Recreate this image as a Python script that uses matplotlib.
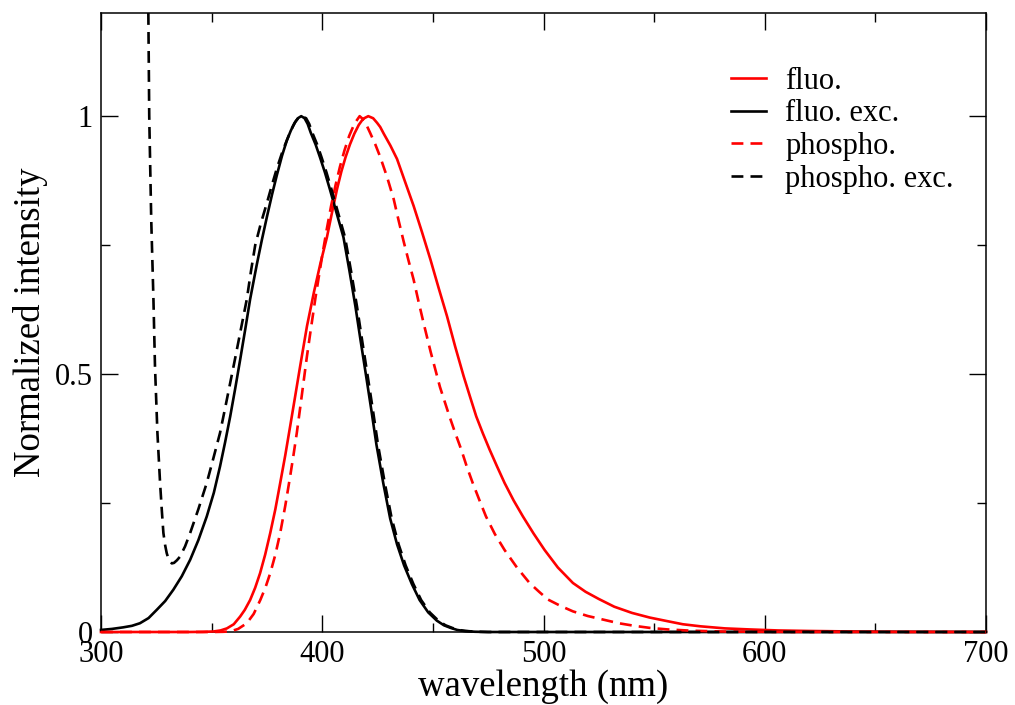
import matplotlib
matplotlib.use("Agg")
import matplotlib.pyplot as plt
from matplotlib.ticker import MultipleLocator, FixedLocator, FixedFormatter

# ---- data ----
fluo_nm = [300, 340, 346, 350.8, 354, 356.9, 360, 362.9, 365, 367.4, 369.7, 371.9, 374.2,
           376.5, 378.8, 381.0, 383.3, 385.5, 387.8, 390.0, 393.1, 396.3, 399.2, 402.1,
           404.4, 406.7, 408.6, 410.5, 412.5, 414.5, 416.5, 418.5, 420.8, 423.0, 424.8,
           426.2, 427.8, 430.8, 433.8, 437.5, 441.3, 445.1, 448.9, 452.6, 456.4, 460.1,
           463.9, 466.8, 469.6, 472.6, 475.6, 479.0, 482.4, 486.5, 490.7, 495.5, 500.5,
           506.5, 513.3, 519, 525, 532, 540, 548, 556, 563, 571, 582, 593, 606, 620, 640,
           660, 700]
fluo_int = [0, 0, 0.0003, 0.001, 0.003, 0.007, 0.015, 0.030, 0.043, 0.062, 0.086, 0.114,
            0.150, 0.192, 0.238, 0.289, 0.343, 0.399, 0.458, 0.515, 0.593, 0.660, 0.715,
            0.765, 0.813, 0.859, 0.892, 0.920, 0.945, 0.966, 0.983, 0.995, 1.0, 0.996,
            0.987, 0.979, 0.966, 0.943, 0.917, 0.872, 0.826, 0.775, 0.722, 0.667, 0.612,
            0.553, 0.496, 0.456, 0.418, 0.385, 0.354, 0.321, 0.289, 0.255, 0.224, 0.191,
            0.159, 0.125, 0.095, 0.078, 0.064, 0.049, 0.037, 0.028, 0.021, 0.015, 0.011,
            0.007, 0.005, 0.003, 0.002, 0.001, 0.0005, 0]

fluo_exc_nm = [300, 305, 310, 314, 317.6, 321.5, 325.2, 329, 332.7, 336.5, 340.3, 344,
               347.8, 351, 353.8, 356.1, 358.4, 360.7, 362.9, 365.2, 367.4, 370.4, 372.7,
               375.0, 377.3, 379.5, 381.8, 384.0, 385.8, 387.5, 389, 390.5, 392, 393.4,
               394.8, 397, 399.0, 401.2, 403.4, 406.5, 409.6, 412.3, 415.0, 417.4, 419.8,
               422.2, 424.5, 427.6, 430.7, 433.8, 437.0, 440.5, 444.0, 447.9, 451.8, 455,
               458.0, 461, 464.0, 469, 475, 700]
fluo_exc_int = [0.004, 0.006, 0.009, 0.012, 0.017, 0.027, 0.043, 0.060, 0.082, 0.108, 0.140,
                0.178, 0.224, 0.270, 0.321, 0.368, 0.418, 0.473, 0.528, 0.587, 0.645, 0.712,
                0.760, 0.805, 0.848, 0.886, 0.923, 0.953, 0.972, 0.987, 0.996, 1.0, 0.996,
                0.985, 0.968, 0.945, 0.920, 0.891, 0.859, 0.812, 0.765, 0.700, 0.631, 0.563,
                0.497, 0.430, 0.363, 0.288, 0.220, 0.170, 0.129, 0.093, 0.062, 0.038, 0.022,
                0.013, 0.008, 0.004, 0.002, 0.0005, 0, 0]

phospho_nm = [300, 350, 355, 358.4, 362, 365.9, 369, 372.0, 374.3, 376.5, 378.8, 381.0,
              383.3, 385.5, 387, 388.5, 390, 391.5, 393, 394.6, 397.0, 400.0, 402, 404.0,
              406, 408.0, 410, 412.2, 414.5, 416.9, 419, 421.6, 424, 426.2, 429.3, 432.3,
              434.5, 436.8, 439, 441.3, 443.5, 445.8, 449.0, 453.2, 457.5, 460, 462.8,
              465.3, 468.0, 471, 474.0, 478, 482.4, 488, 493.7, 498, 502.0, 507.5, 513.3,
              520, 527, 534, 541, 548, 556, 567, 580, 600, 620, 700]
phospho_int = [0, 0, 0.0004, 0.001, 0.006, 0.017, 0.035, 0.062, 0.086, 0.114, 0.150, 0.192,
               0.245, 0.302, 0.343, 0.386, 0.434, 0.483, 0.532, 0.580, 0.650, 0.730, 0.780,
               0.826, 0.866, 0.902, 0.933, 0.962, 0.985, 1.0, 0.992, 0.968, 0.945, 0.921,
               0.882, 0.839, 0.798, 0.757, 0.720, 0.683, 0.641, 0.599, 0.543, 0.475, 0.418,
               0.387, 0.354, 0.321, 0.289, 0.256, 0.224, 0.190, 0.159, 0.125, 0.095, 0.078,
               0.063, 0.051, 0.040, 0.031, 0.024, 0.017, 0.012, 0.008, 0.005, 0.0025, 0.001,
               0.0003, 0, 0]

phospho_exc_nm = [321.4, 321.8, 322.7, 323.7, 324.4, 325.5, 326.7, 327.5, 328.2, 329, 329.7,
                  330.4, 331.0, 332.0, 333.0, 334.3, 335.7, 338, 340.3, 344, 347.8, 350.8,
                  353.8, 356.1, 358.4, 360.7, 362.9, 365.9, 367.8, 369.7, 372.3, 375.0,
                  377.3, 379.5, 382.3, 385.2, 386.7, 388, 389.3, 390.5, 392.7, 394.1, 395.5,
                  397.7, 399.7, 401.9, 404.1, 407.2, 410.3, 413.0, 415.7, 418.1, 420.5,
                  422.9, 425.2, 428.3, 431.4, 434.5, 437.7, 441.2, 444.7, 448.6, 452.5,
                  455.7, 458.7, 461.7, 464.7, 469.7, 475, 700]
phospho_exc_int = [1.2, 1.0, 0.80, 0.645, 0.515, 0.386, 0.289, 0.235, 0.192, 0.168, 0.153,
                   0.143, 0.138, 0.133, 0.134, 0.139, 0.146, 0.166, 0.192, 0.238, 0.289,
                   0.337, 0.386, 0.434, 0.483, 0.532, 0.580, 0.645, 0.700, 0.750, 0.793,
                   0.832, 0.867, 0.899, 0.935, 0.966, 0.980, 0.990, 0.997, 1.0, 0.996, 0.985,
                   0.968, 0.945, 0.920, 0.891, 0.859, 0.812, 0.765, 0.700, 0.631, 0.563,
                   0.497, 0.430, 0.363, 0.288, 0.220, 0.170, 0.129, 0.093, 0.062, 0.038,
                   0.022, 0.013, 0.008, 0.004, 0.002, 0.0005, 0, 0]

labels = ["fluo.", "fluo. exc.", "phospho.", "phospho. exc."]
x_ticks = [300, 400, 500, 600, 700]
y_ticks = [0, 0.5, 1]
y_tick_labels = ["0", "0.5", "1"]

# ---- figure ----
plt.rcParams['font.family'] = ['Liberation Serif', 'DejaVu Serif']
fig = plt.figure(figsize=(10.15, 7.05), dpi=100)
ax = fig.add_axes([101/1015, 1 - 632/705, (986-101)/1015, (632-13)/705])

lw = 1.9
dash = (0, (4.5, 2.7))
ax.plot(fluo_nm, fluo_int, color='red', lw=lw, label=labels[0], clip_on=False, zorder=3)
ax.plot(fluo_exc_nm, fluo_exc_int, color='black', lw=lw, label=labels[1], clip_on=False, zorder=3)
ax.plot(phospho_nm, phospho_int, color='red', lw=lw, ls=dash, label=labels[2], clip_on=False, zorder=3)
ax.plot(phospho_exc_nm, phospho_exc_int, color='black', lw=lw, ls=dash, label=labels[3],
        clip_on=False, zorder=3)

ax.set_xlim(300, 700)
ax.set_ylim(0, 1.2)
ax.xaxis.set_major_locator(FixedLocator(x_ticks))
ax.xaxis.set_minor_locator(MultipleLocator(50))
ax.yaxis.set_major_locator(FixedLocator(y_ticks))
ax.yaxis.set_major_formatter(FixedFormatter(y_tick_labels))
ax.yaxis.set_minor_locator(MultipleLocator(0.25))

ax.tick_params(which='both', direction='in', top=True, right=True, width=1.0, labelsize=22)
ax.tick_params(which='major', length=12.5, pad=6)
ax.tick_params(which='minor', length=6.5)
for s in ax.spines.values():
    s.set_linewidth(1.1)

ax.set_xlabel("wavelength (nm)", fontsize=26.5, labelpad=0)
ax.set_ylabel("Normalized intensity", fontsize=26.5, labelpad=5)

leg = ax.legend(loc='upper left', bbox_to_anchor=(0.698, 0.933), frameon=False, fontsize=22,
                handlelength=1.15, handletextpad=0.62, labelspacing=0.12, borderaxespad=0)

fig.savefig("out.png", dpi=100)
